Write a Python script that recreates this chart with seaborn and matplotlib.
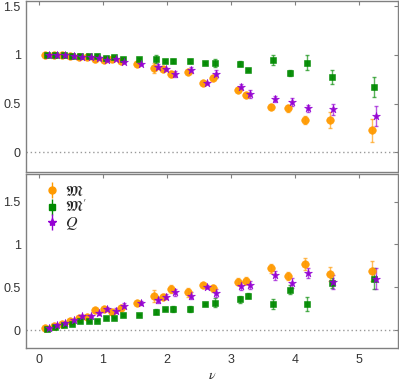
import numpy as np
import pandas as pd
import seaborn as sns
import matplotlib.pyplot as plt
from matplotlib.ticker import FixedLocator

nu = [0.125, 0.256, 0.386, 0.516, 0.647, 0.781, 0.912, 1.042, 1.172, 1.308, 1.563, 1.834,
      1.964, 2.094, 2.355, 2.600, 2.750, 3.140, 3.270, 3.667, 3.930, 4.190, 4.580, 5.240]

# top panel
top_M = [1.0, 1.0, 0.995, 0.99, 0.978, 0.978, 0.958, 0.95, 0.96, 0.935, 0.91, 0.867,
         0.857, 0.80, 0.82, 0.71, 0.767, 0.635, 0.586, 0.468, 0.45, 0.33, 0.33, 0.225]
top_M_err = [0.005, 0.005, 0.005, 0.005, 0.005, 0.005, 0.03, 0.01, 0.01, 0.01, 0.01, 0.05,
             0.015, 0.03, 0.02, 0.01, 0.03, 0.02, 0.02, 0.025, 0.035, 0.04, 0.08, 0.12]
top_Mp = [1.0, 1.0, 0.995, 0.99, 0.985, 0.985, 0.985, 0.97, 0.978, 0.96, 0.96, 0.958,
          0.935, 0.94, 0.94, 0.92, 0.92, 0.91, 0.84, 0.945, 0.81, 0.92, 0.77, 0.67]
top_Mp_err = [0.005, 0.005, 0.005, 0.005, 0.005, 0.005, 0.02, 0.01, 0.01, 0.01, 0.01, 0.04,
              0.01, 0.02, 0.02, 0.01, 0.04, 0.025, 0.01, 0.05, 0.03, 0.08, 0.07, 0.1]
top_Q = [1.0, 1.0, 0.995, 0.99, 0.978, 0.975, 0.965, 0.95, 0.955, 0.93, 0.91, 0.88,
         0.85, 0.80, 0.84, 0.71, 0.80, 0.67, 0.60, 0.545, 0.515, 0.45, 0.44, 0.375]
top_Q_err = [0.005, 0.005, 0.005, 0.005, 0.005, 0.005, 0.02, 0.01, 0.01, 0.01, 0.01, 0.03,
             0.01, 0.03, 0.03, 0.01, 0.04, 0.03, 0.04, 0.03, 0.04, 0.04, 0.06, 0.1]

# bottom panel
bot_M = [0.02, 0.047, 0.07, 0.105, 0.145, 0.15, 0.235, 0.24, 0.21, 0.26, 0.31, 0.40,
         0.39, 0.48, 0.44, 0.527, 0.485, 0.565, 0.575, 0.72, 0.63, 0.77, 0.655, 0.69]
bot_M_err = [0.01, 0.01, 0.01, 0.01, 0.01, 0.01, 0.02, 0.02, 0.02, 0.02, 0.01, 0.07,
             0.03, 0.05, 0.05, 0.02, 0.04, 0.04, 0.04, 0.05, 0.05, 0.07, 0.08, 0.12]
bot_Mp = [0.015, 0.04, 0.055, 0.075, 0.10, 0.10, 0.11, 0.14, 0.145, 0.175, 0.18, 0.215,
          0.24, 0.245, 0.245, 0.30, 0.32, 0.36, 0.40, 0.30, 0.47, 0.305, 0.55, 0.60]
bot_Mp_err = [0.01, 0.01, 0.01, 0.01, 0.01, 0.01, 0.01, 0.01, 0.01, 0.01, 0.01, 0.03,
              0.01, 0.03, 0.03, 0.01, 0.05, 0.04, 0.03, 0.06, 0.05, 0.08, 0.06, 0.12]
bot_Q = [0.025, 0.055, 0.08, 0.12, 0.16, 0.16, 0.195, 0.245, 0.225, 0.285, 0.315, 0.35,
         0.39, 0.44, 0.40, 0.505, 0.43, 0.515, 0.525, 0.64, 0.545, 0.67, 0.56, 0.60]
bot_Q_err = [0.01, 0.01, 0.01, 0.01, 0.01, 0.01, 0.02, 0.02, 0.03, 0.03, 0.02, 0.04,
             0.03, 0.04, 0.04, 0.02, 0.05, 0.05, 0.05, 0.05, 0.06, 0.06, 0.08, 0.12]

labels = [r'$\mathfrak{M}$', r"$\mathfrak{M}'$", r'$Q$']
colors = ['#ff9a00', '#008a00', '#9400d3']
markers = ['o', 's', '*']
sizes = [30, 22, 36]
shift = [-0.03, 0.0, 0.025]

sns.set_theme(style="white")
plt.rcParams['font.family'] = ['Liberation Sans', 'DejaVu Sans']
plt.rcParams['mathtext.fontset'] = 'stix'

fig = plt.figure(figsize=(3.99, 3.82), dpi=100)
ax1 = fig.add_axes([0.066, 0.550, 0.932, 0.447])
ax2 = fig.add_axes([0.066, 0.089, 0.932, 0.455])

panels = [
    (ax1, [top_M, top_Mp, top_Q], [top_M_err, top_Mp_err, top_Q_err], (-0.2, 1.55)),
    (ax2, [bot_M, bot_Mp, bot_Q], [bot_M_err, bot_Mp_err, bot_Q_err], (-0.21, 1.82)),
]

for ax, ys, errs, ylim in panels:
    ax.axhline(0, color='#999999', ls=(0, (1, 2)), lw=1, zorder=0)
    for i in range(3):
        x = np.array(nu) + shift[i]
        ax.errorbar(x, ys[i], yerr=errs[i], fmt='none', ecolor=colors[i], alpha=0.65,
                    elinewidth=1, capsize=1.5, capthick=1, zorder=2)
        frame = pd.DataFrame({'nu': x, 'val': ys[i]})
        sns.scatterplot(data=frame, x='nu', y='val', ax=ax, color=colors[i],
                        marker=markers[i], s=sizes[i], edgecolor=colors[i],
                        linewidth=0.4, alpha=0.95, zorder=3, legend=False)
    ax.set_xlim(-0.2, 5.62)
    ax.set_ylim(*ylim)
    ax.xaxis.set_major_locator(FixedLocator([0, 1, 2, 3, 4, 5]))
    ax.yaxis.set_major_locator(FixedLocator([0, 0.5, 1, 1.5]))
    ax.set_yticklabels(['0', '0.5', '1', '1.5'])
    ax.tick_params(direction='in', length=3, width=0.8, color='#808080',
                   top=True, right=True, labelsize=9, labelcolor='#333333', pad=4)
    for s in ax.spines.values():
        s.set_color('#808080')
        s.set_linewidth(1)
    ax.set_xlabel('')
    ax.set_ylabel('')

ax1.tick_params(labelbottom=False)
ax2.set_xticklabels(['0', '1', '2', '3', '4', '5'])
ax2.set_xlabel(r'$\nu$', fontsize=10, labelpad=2)

handles = []
for i in range(3):
    h = ax2.errorbar([], [], yerr=[], fmt=markers[i], color=colors[i], ecolor=colors[i],
                     ms=[5, 4.5, 6][i], elinewidth=1, capsize=1.5, label=labels[i])
    handles.append(h)
ax2.legend(handles=handles, loc='upper left', frameon=False, fontsize=11.5,
           handlelength=0.6, handletextpad=0.5, labelspacing=0.0,
           borderaxespad=0.2, bbox_to_anchor=(0.03, 1.0))

fig.savefig('out.png', dpi=100)
